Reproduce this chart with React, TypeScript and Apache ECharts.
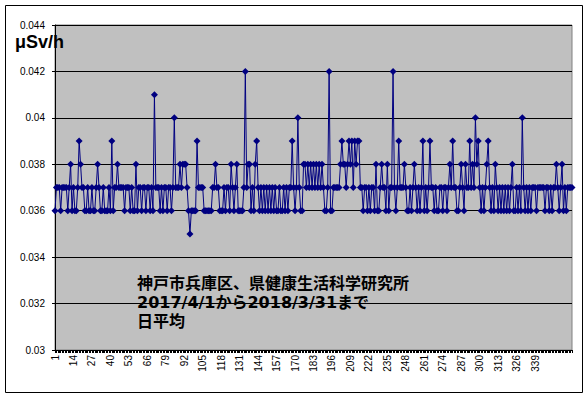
import React, { useEffect, useRef } from "react";
import * as echarts from "echarts";

// Daily average dose rate (μSv/h), day 1 = 2017/4/1 ... day 365 = 2018/3/31
const doseRate: number[] = [
  // days 1-35
  0.036, 0.037, 0.037, 0.037, 0.036, 0.037, 0.037, 0.037, 0.037, 0.036,
  0.037, 0.038, 0.036, 0.037, 0.036, 0.036, 0.037, 0.039, 0.038, 0.037,
  0.037, 0.036, 0.036, 0.037, 0.036, 0.036, 0.037, 0.036, 0.036, 0.037,
  0.038, 0.037, 0.036, 0.036, 0.037,
  // days 36-72
  0.036, 0.036, 0.036, 0.037, 0.036, 0.039, 0.036, 0.037, 0.037, 0.038,
  0.037, 0.037, 0.037, 0.037, 0.036, 0.037, 0.037, 0.037, 0.036, 0.037,
  0.036, 0.036, 0.038, 0.036, 0.037, 0.037, 0.036, 0.037, 0.037, 0.036,
  0.037, 0.037, 0.036, 0.037, 0.036, 0.041, 0.037,
  // days 73-109
  0.037, 0.037, 0.036, 0.037, 0.036, 0.037, 0.037, 0.036, 0.037, 0.037,
  0.036, 0.037, 0.040, 0.037, 0.037, 0.037, 0.038, 0.037, 0.038, 0.038,
  0.038, 0.037, 0.036, 0.035, 0.036, 0.036, 0.036, 0.036, 0.039, 0.037,
  0.037, 0.037, 0.037, 0.036, 0.036, 0.036, 0.036,
  // days 110-146
  0.036, 0.036, 0.037, 0.037, 0.038, 0.037, 0.037, 0.036, 0.036, 0.036,
  0.037, 0.036, 0.037, 0.037, 0.036, 0.038, 0.037, 0.036, 0.037, 0.038,
  0.036, 0.036, 0.036, 0.036, 0.037, 0.042, 0.037, 0.038, 0.038, 0.036,
  0.037, 0.036, 0.038, 0.039, 0.037, 0.036, 0.037,
  // days 147-183
  0.036, 0.037, 0.036, 0.037, 0.036, 0.037, 0.036, 0.037, 0.036, 0.037,
  0.036, 0.036, 0.037, 0.036, 0.036, 0.037, 0.036, 0.037, 0.036, 0.037,
  0.037, 0.039, 0.037, 0.036, 0.037, 0.040, 0.037, 0.036, 0.036, 0.038,
  0.038, 0.037, 0.038, 0.037, 0.038, 0.037, 0.038,
  // days 184-220
  0.037, 0.038, 0.037, 0.038, 0.037, 0.038, 0.037, 0.036, 0.036, 0.037,
  0.042, 0.036, 0.036, 0.037, 0.037, 0.037, 0.037, 0.037, 0.038, 0.039,
  0.038, 0.038, 0.037, 0.038, 0.039, 0.038, 0.039, 0.037, 0.039, 0.038,
  0.039, 0.039, 0.037, 0.037, 0.036, 0.037, 0.037,
  // days 221-257
  0.036, 0.037, 0.036, 0.037, 0.037, 0.036, 0.038, 0.036, 0.036, 0.037,
  0.038, 0.037, 0.037, 0.036, 0.038, 0.036, 0.037, 0.037, 0.042, 0.037,
  0.036, 0.037, 0.039, 0.037, 0.037, 0.037, 0.038, 0.037, 0.036, 0.036,
  0.037, 0.036, 0.037, 0.038, 0.037, 0.036, 0.037,
  // days 258-293
  0.036, 0.037, 0.039, 0.036, 0.037, 0.036, 0.037, 0.039, 0.037, 0.037,
  0.036, 0.037, 0.036, 0.036, 0.037, 0.037, 0.036, 0.037, 0.037, 0.036,
  0.037, 0.038, 0.037, 0.039, 0.037, 0.037, 0.036, 0.036, 0.037, 0.038,
  0.037, 0.036, 0.038, 0.037, 0.037, 0.039,
  // days 294-330
  0.037, 0.038, 0.037, 0.040, 0.038, 0.039, 0.037, 0.036, 0.037, 0.036,
  0.037, 0.038, 0.039, 0.037, 0.036, 0.037, 0.036, 0.038, 0.037, 0.036,
  0.037, 0.036, 0.037, 0.036, 0.037, 0.036, 0.037, 0.036, 0.037, 0.038,
  0.036, 0.036, 0.037, 0.036, 0.037, 0.036, 0.040,
  // days 331-365
  0.037, 0.036, 0.037, 0.036, 0.037, 0.036, 0.037, 0.037, 0.037, 0.036,
  0.037, 0.037, 0.037, 0.037, 0.037, 0.036, 0.037, 0.037, 0.036, 0.037,
  0.036, 0.037, 0.037, 0.038, 0.037, 0.036, 0.037, 0.038, 0.036, 0.037,
  0.036, 0.037, 0.037, 0.037, 0.037,
];

const dayLabels: string[] = doseRate.map((_, i) => String(i + 1));

// Day numbers shown under the x axis
const shownDayLabels: string[] = [
  "1", "14", "27", "40", "53", "66", "79", "92", "105", "118", "131", "144", "157", "170",
  "183", "196", "209", "222", "235", "248", "261", "274", "287", "300", "313", "326", "339",
];

const unitLabel = "μSv/h";
const noteLines: string[] = [
  "神戸市兵庫区、県健康生活科学研究所",
  "2017/4/1から2018/3/31まで",
  "日平均",
];

const yMin = 0.03;
const yMax = 0.044;
const yStep = 0.002;

export default function App() {
  const ref = useRef<HTMLDivElement>(null);
  useEffect(() => {
    if (!ref.current) return;
    const chart = echarts.init(ref.current, null, { renderer: "svg" });
    const font = "'Liberation Sans', Arial, sans-serif";
    const shown = new Set(shownDayLabels);
    chart.setOption({
      animation: false,
      backgroundColor: "#ffffff",
      grid: {
        left: 55,
        right: 15,
        top: 25,
        bottom: 48,
        show: true,
        backgroundColor: "#C0C0C0",
        borderColor: "#808080",
        borderWidth: 1,
      },
      xAxis: {
        type: "category",
        data: dayLabels,
        boundaryGap: false,
        axisLine: { lineStyle: { color: "#000", width: 1 } },
        axisTick: { show: true, interval: 0, length: 3, lineStyle: { color: "#000" } },
        axisLabel: {
          interval: (_idx: number, value: string) => shown.has(value),
          rotate: 90,
          fontSize: 10,
          color: "#000",
          fontFamily: font,
          margin: 5,
        },
        splitLine: { show: false },
      },
      yAxis: {
        type: "value",
        min: yMin,
        max: yMax,
        interval: yStep,
        axisLine: { show: true, lineStyle: { color: "#000", width: 1 } },
        axisTick: { show: true, length: 3, lineStyle: { color: "#000" } },
        axisLabel: {
          fontSize: 10,
          color: "#000",
          fontFamily: font,
          margin: 10,
          formatter: (v: number) => String(parseFloat(v.toFixed(3))),
        },
        splitLine: { show: true, lineStyle: { color: "#000", width: 1 } },
      },
      series: [
        {
          type: "line",
          data: doseRate,
          symbol: "diamond",
          symbolSize: 7,
          showAllSymbol: true,
          itemStyle: { color: "#000080" },
          lineStyle: { color: "#000080", width: 1 },
        },
      ],
      graphic: [
        {
          type: "rect",
          shape: { x: 5.5, y: 5.5, width: 577, height: 387 },
          style: { fill: "none", stroke: "#000", lineWidth: 1 },
          silent: true,
        },
        {
          type: "text",
          left: 15,
          top: 33,
          style: {
            text: unitLabel,
            fontSize: 18,
            fontWeight: "bold",
            fontFamily: font,
            fill: "#000",
          },
        },
        {
          type: "text",
          left: 137,
          top: 274,
          style: {
            text: noteLines.join("\n"),
            fontSize: 16,
            fontWeight: "bold",
            fontFamily: "'DejaVu Sans', 'Noto Sans CJK JP', sans-serif",
            lineHeight: 19,
            fill: "#000",
          },
        },
      ],
    });
    return () => chart.dispose();
  }, []);
  return (
    <div
      ref={ref}
      style={{ position: "fixed", left: 0, top: 0, width: 587, height: 398, background: "#fff" }}
    />
  );
}
